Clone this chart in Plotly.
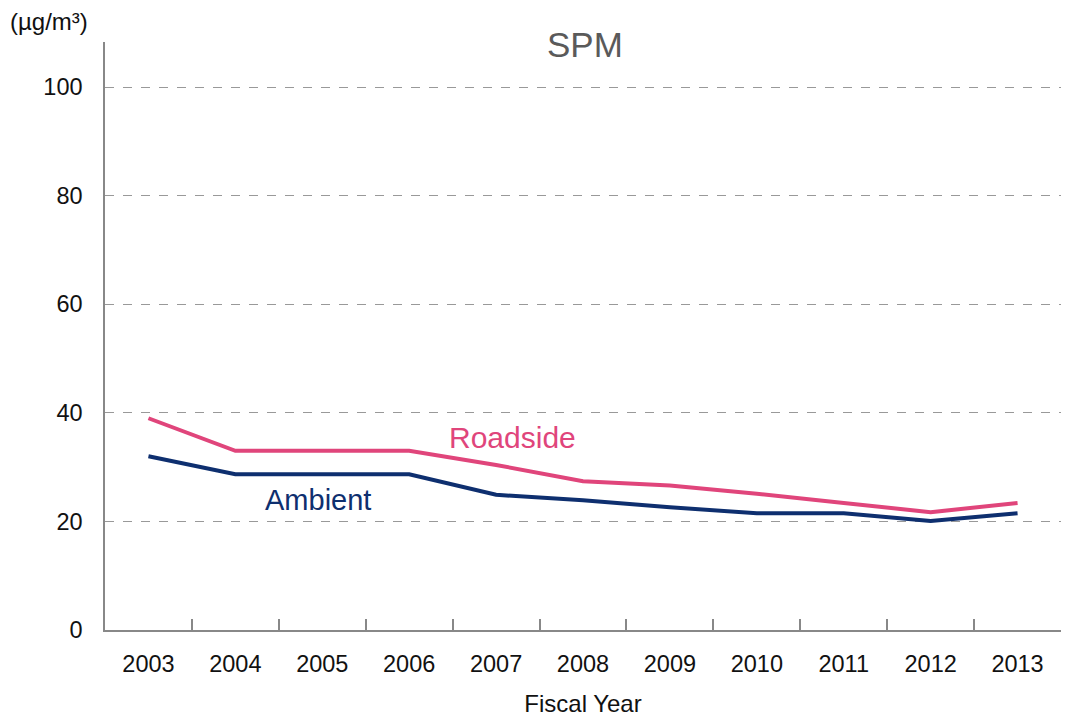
import plotly.graph_objects as go

years = ["2003", "2004", "2005", "2006", "2007", "2008", "2009", "2010", "2011", "2012", "2013"]
roadside = [39.0, 33.0, 33.0, 33.0, 30.4, 27.4, 26.6, 25.1, 23.4, 21.7, 23.4]
ambient = [32.0, 28.7, 28.7, 28.7, 24.9, 23.9, 22.6, 21.5, 21.5, 20.1, 21.5]
y_ticks = [0, 20, 40, 60, 80, 100]

pink = "#E0457B"
navy = "#0E2F6F"
font = "Liberation Sans, Arial, sans-serif"

fig = go.Figure()
fig.add_trace(go.Scatter(x=years, y=roadside, mode="lines", line=dict(color=pink, width=4), name="Roadside"))
fig.add_trace(go.Scatter(x=years, y=ambient, mode="lines", line=dict(color=navy, width=4), name="Ambient"))

# page body has an 8px margin, so the figure is shifted; compensate in size/margins
fig.update_layout(
    width=1062, height=709,
    margin=dict(l=97, r=9, t=34, b=87),
    plot_bgcolor="white", paper_bgcolor="white",
    showlegend=False,
    font=dict(family=font, size=24, color="#111111"),
)
fig.update_xaxes(
    type="category", range=[-0.5, 10.5], automargin=False,
    showline=True, linecolor="#888888", linewidth=1.5,
    ticks="inside", tickson="boundaries", ticklen=11, tickcolor="#888888", tickwidth=1.5,
    ticklabelstandoff=12,
    showgrid=False, tickfont=dict(size=23.5, color="#111111"),
    title=dict(text="Fiscal Year", font=dict(size=24, color="#111111"), standoff=20),
)
fig.update_yaxes(
    range=[0, 108.3], tickvals=y_ticks, automargin=False,
    showline=True, linecolor="#888888", linewidth=1.5,
    showgrid=True, gridcolor="#999999", griddash="dash", gridwidth=1,
    zeroline=False, ticks="", ticklabelstandoff=16, tickfont=dict(size=23.5, color="#111111"),
)

fig.add_annotation(text="SPM", xref="paper", yref="paper", x=0.502, y=0.995, yanchor="middle",
                   showarrow=False, font=dict(size=35, color="#5a5a5a", family=font))
fig.add_annotation(text="(µg/m³)", xref="paper", yref="paper", x=-0.101, y=1.035, xanchor="left", yanchor="middle",
                   showarrow=False, font=dict(size=24, color="#111111", family=font))
fig.add_annotation(text="Roadside", x=4.19, y=35.5, xref="x", yref="y", xanchor="center", yanchor="middle",
                   showarrow=False, font=dict(size=30, color=pink, family=font))
fig.add_annotation(text="Ambient", x=1.95, y=23.9, xref="x", yref="y", xanchor="center", yanchor="middle",
                   showarrow=False, font=dict(size=29, color=navy, family=font))

fig.write_html("out.html")
